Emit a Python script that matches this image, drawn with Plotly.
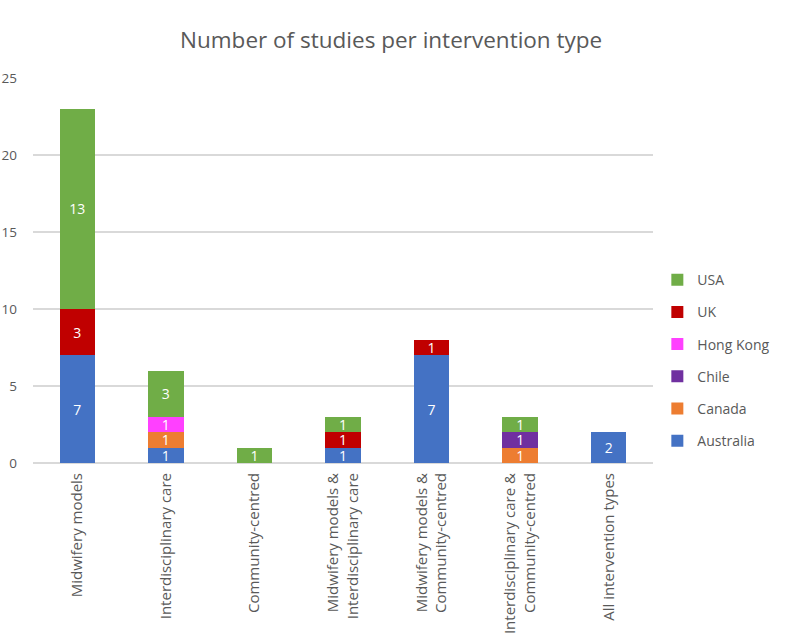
import plotly.graph_objects as go

categories = [
    "Midwifery models",
    "Interdisciplinary care",
    "Community-centred",
    "Midwifery models &<br>Interdisciplinary care",
    "Midwifery models &<br>Community-centred",
    "Interdisciplinary care &<br>Community-centred",
    "All intervention types",
]

australia = [7, 1, None, 1, 7, None, 2]
canada = [None, 1, None, None, None, 1, None]
chile = [None, None, None, None, None, 1, None]
hong_kong = [None, 1, None, None, None, None, None]
uk = [3, None, None, 1, 1, None, None]
usa = [13, 3, 1, 1, None, 1, None]

series = [
    ("Australia", australia, "#4472C4"),
    ("Canada", canada, "#ED7D31"),
    ("Chile", chile, "#7030A0"),
    ("Hong Kong", hong_kong, "#FF40FF"),
    ("UK", uk, "#C00000"),
    ("USA", usa, "#70AD47"),
]

y_ticks = [0, 5, 10, 15, 20, 25]

FONT = "Open Sans"

fig = go.Figure()
n = len(series)
for i, (name, vals, color) in enumerate(series):
    fig.add_trace(go.Bar(
        name=name, x=categories, y=vals,
        marker=dict(color=color, line=dict(width=0)),
        text=[("" if v is None else str(v)) for v in vals],
        textposition="inside", insidetextanchor="middle", textangle=0,
        constraintext="none",
        textfont=dict(color="white", size=14, family=FONT),
        legendgroup=name, legendrank=n - i,
    ))

fig.update_layout(
    barmode="stack",
    bargap=0.6,
    width=787, height=634,
    paper_bgcolor="white", plot_bgcolor="white",
    font=dict(family=FONT, color="#595959", size=14),
    title=dict(text="Number of studies per intervention type", xref="container", x=0.497,
               xanchor="center", yref="container", y=1 - 40 / 634, yanchor="middle",
               font=dict(size=22.5, color="#595959")),
    margin=dict(l=33, r=120, t=78, b=171),
    showlegend=True,
    legend=dict(x=1.007, xanchor="left", y=0.266, yanchor="middle",
                traceorder="grouped", tracegroupgap=11,
                font=dict(size=14, color="#595959")),
    uniformtext=dict(mode="show", minsize=14),
)
fig.update_xaxes(tickangle=-90, showline=False, ticks="", tickfont=dict(size=15),
                 ticklabelstandoff=6, automargin=False)
fig.update_yaxes(range=[0, 25], tickvals=y_ticks, showgrid=True, gridcolor="#D9D9D9",
                 gridwidth=1.5, zeroline=True, zerolinecolor="#D9D9D9", zerolinewidth=1.5,
                 tickfont=dict(size=13.5), ticks="", ticklabelstandoff=15, automargin=False)

fig.write_html("out.html", config={"displayModeBar": False},
               post_script="document.body.style.margin='0';")
